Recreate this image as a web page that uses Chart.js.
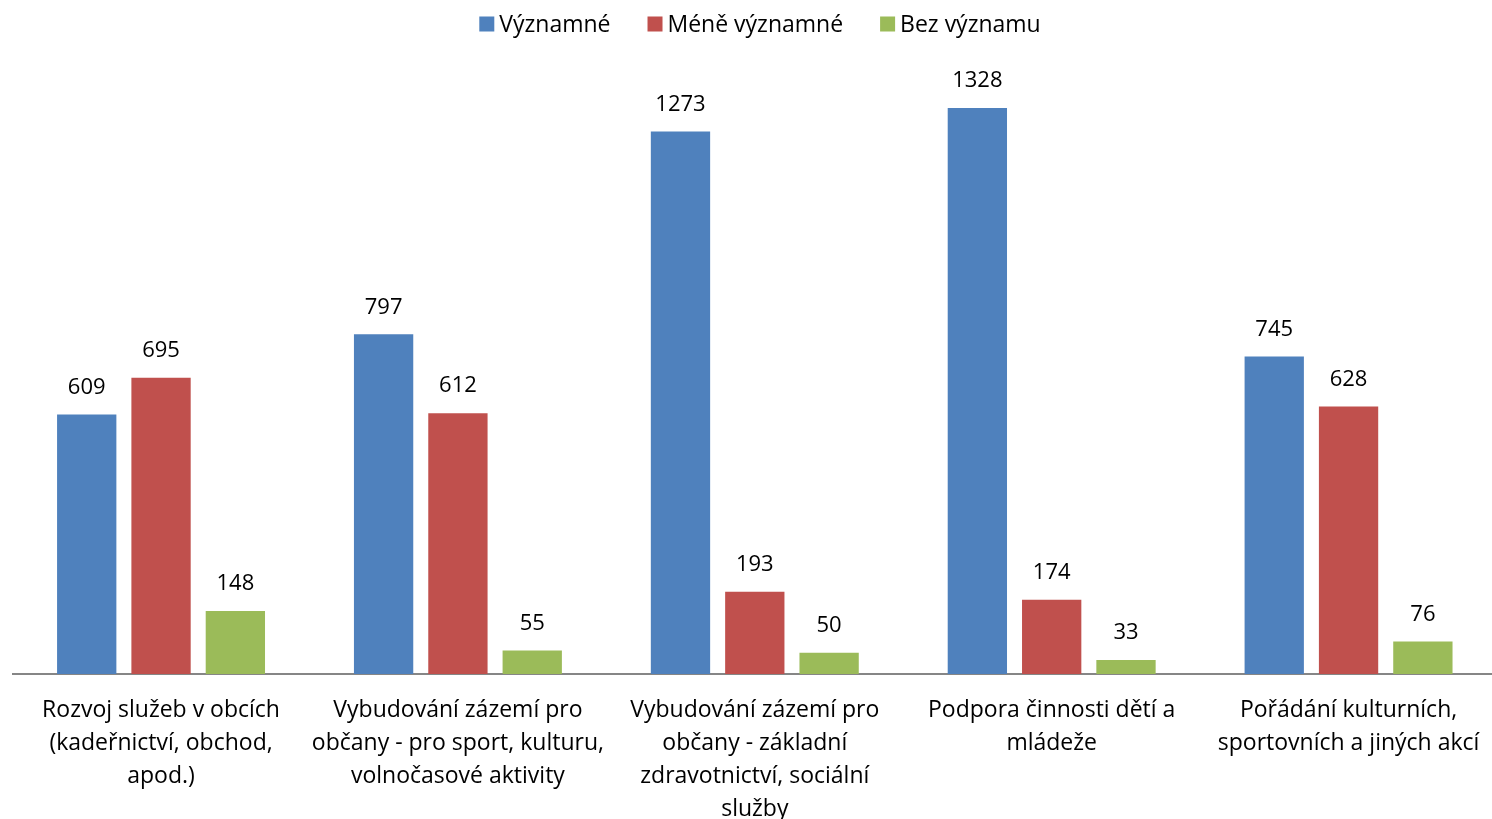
<!DOCTYPE html>
<html>
<head>
<meta charset="utf-8">
<script src="https://cdn.jsdelivr.net/npm/chart.js@4/dist/chart.umd.min.js"></script>
<style>
  html, body { margin: 0; padding: 0; background: #fff; overflow: hidden; }
  #wrap { width: 1497px; height: 819px; position: relative; }
</style>
</head>
<body>
<div id="wrap"><canvas id="chart"></canvas></div>
<script>
// categories (multi-line labels as in the original)
const categories = [
  ['Rozvoj služeb v obcích', '(kadeřnictví, obchod,', 'apod.)'],
  ['Vybudování zázemí pro', 'občany - pro sport, kulturu,', 'volnočasové aktivity'],
  ['Vybudování zázemí pro', 'občany - základní', 'zdravotnictví, sociální', 'služby'],
  ['Podpora činnosti dětí a', 'mládeže'],
  ['Pořádání kulturních,', 'sportovních a jiných akcí']
];
const seriesNames = ['Významné', 'Méně významné', 'Bez významu'];
const vyznamne = [609, 797, 1273, 1328, 745];
const meneVyznamne = [695, 612, 193, 174, 628];
const bezVyznamu = [148, 55, 50, 33, 76];

const colors = ['#4F81BD', '#C0504D', '#9BBB59'];
const FONT = "'Open Sans', sans-serif";

// draws the value above each bar
const valueLabels = {
  id: 'valueLabels',
  afterDatasetsDraw(chart) {
    const ctx = chart.ctx;
    ctx.save();
    ctx.font = '22px ' + FONT;
    ctx.fillStyle = '#000';
    ctx.textAlign = 'center';
    ctx.textBaseline = 'middle';
    chart.data.datasets.forEach((ds, i) => {
      chart.getDatasetMeta(i).data.forEach((bar, j) => {
        ctx.fillText(ds.data[j], bar.x, bar.y - 27);
      });
    });
    ctx.restore();
  }
};

// legend drawn by hand: tight gap box->text, wide gap between items
const topLegend = {
  id: 'topLegend',
  afterDraw(chart) {
    const ctx = chart.ctx;
    const box = 15, gapText = 5, gapItem = 37, y = 24;
    ctx.save();
    ctx.font = '23px ' + FONT;
    ctx.textBaseline = 'middle';
    ctx.textAlign = 'left';
    const items = chart.data.datasets.map(ds => ({
      label: ds.label, color: ds.backgroundColor, w: ctx.measureText(ds.label).width
    }));
    let total = 0;
    items.forEach((it, i) => { total += box + gapText + it.w + (i < items.length - 1 ? gapItem : 0); });
    let x = 760 - total / 2;
    items.forEach(it => {
      ctx.fillStyle = it.color;
      ctx.fillRect(x, y - box / 2, box, box);
      x += box + gapText;
      ctx.fillStyle = '#000';
      ctx.fillText(it.label, x, y + 1);
      x += it.w + gapItem;
    });
    ctx.restore();
  }
};

new Chart(document.getElementById('chart'), {
  type: 'bar',
  data: {
    labels: categories,
    datasets: [
      { label: seriesNames[0], data: vyznamne, backgroundColor: colors[0] },
      { label: seriesNames[1], data: meneVyznamne, backgroundColor: colors[1] },
      { label: seriesNames[2], data: bezVyznamu, backgroundColor: colors[2] }
    ]
  },
  options: {
    responsive: true,
    maintainAspectRatio: false,
    animation: false,
    datasets: {
      bar: { categoryPercentage: 0.751, barPercentage: 0.798 }
    },
    layout: { padding: { top: 48, left: 12.6, right: 0, bottom: 0 } },
    plugins: {
      legend: { display: false },
      tooltip: { enabled: false }
    },
    scales: {
      x: {
        grid: { display: false, drawTicks: false },
        border: { display: true, color: '#868686', width: 2 },
        ticks: {
          color: '#000',
          padding: 20,
          maxRotation: 0,
          autoSkip: false,
          font: { family: FONT, size: 23, lineHeight: 1.435 }
        },
        afterFit(scale) {
          scale.height = 145;
          scale.paddingLeft = 0;
          scale.paddingRight = 0;
        }
      },
      y: {
        display: false,
        min: 0,
        max: 1469
      }
    }
  },
  plugins: [valueLabels, topLegend]
});
</script>
</body>
</html>
